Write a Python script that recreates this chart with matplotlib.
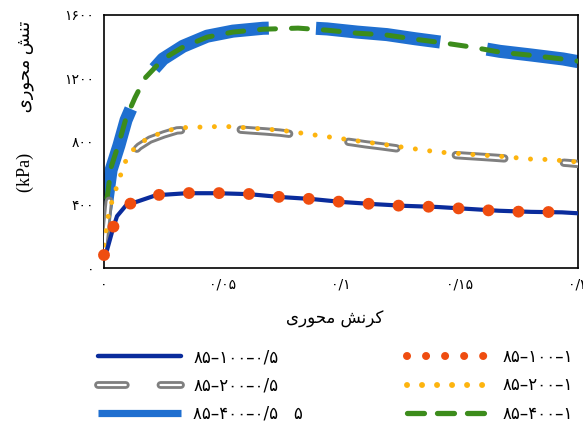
import matplotlib
matplotlib.use('Agg')
import matplotlib.pyplot as plt
import matplotlib.patheffects as pe
from matplotlib.lines import Line2D

plt.rcParams['lines.scale_dashes'] = False

FA_DIGITS = str.maketrans('0123456789', '۰۱۲۳۴۵۶۷۸۹')


def fa(text):
    return text.translate(FA_DIGITS)


# axial strain / axial stress (kPa)
strain_100 = [0, 0.0013, 0.0038, 0.0055, 0.0093, 0.0219, 0.035, 0.0477, 0.0612, 0.0743, 0.0878,
              0.1008, 0.1139, 0.127, 0.1405, 0.1536, 0.1667, 0.1802, 0.1932, 0.2]
stress_100_1 = [82, 120, 253, 330, 398, 461, 474, 474, 468, 449, 436,
                417, 404, 392, 386, 373, 360, 354, 354, 348]
stress_100_05 = [70, 115, 250, 328, 396, 460, 473, 473, 467, 449, 436,
                 417, 404, 393, 386, 374, 362, 355, 352, 346]

strain_200 = [0, 0.002, 0.0042, 0.0063, 0.0084, 0.0105, 0.0148, 0.0194, 0.0253, 0.0308, 0.0376,
              0.0435, 0.0498, 0.0557, 0.062, 0.0679, 0.0743, 0.0802, 0.0861, 0.0924, 0.0983,
              0.1046, 0.1105, 0.1169, 0.1228, 0.1287, 0.135, 0.1409, 0.1473, 0.1532, 0.1595,
              0.1654, 0.1717, 0.1776, 0.1835, 0.1899, 0.1958, 0.2]
stress_200_1 = [145, 354, 461, 556, 651, 720, 784, 828, 860, 885, 891,
                891, 897, 891, 885, 878, 872, 860, 847, 834, 822,
                809, 796, 784, 771, 758, 746, 733, 727, 720, 714,
                708, 702, 689, 689, 683, 676, 670]
stress_200_05 = [120, 420, 500, 585, 650, 705, 768, 812, 845, 870, 876,
                 878, 882, 877, 870, 864, 856, 845, 833, 820, 808,
                 795, 782, 770, 758, 745, 733, 722, 715, 709, 703,
                 697, 690, 680, 676, 670, 664, 658]

strain_400 = [0, 0.0012, 0.003, 0.0063, 0.0093, 0.0131, 0.0173, 0.0249, 0.0333, 0.0435, 0.0544,
              0.0671, 0.0819, 0.0941, 0.1068, 0.1194, 0.1312, 0.1439, 0.1553, 0.1671, 0.1797,
              0.1937, 0.2]
stress_400_1 = [240, 430, 638, 790, 948, 1078, 1201, 1321, 1397, 1460, 1492,
                1510, 1517, 1504, 1485, 1473, 1447, 1422, 1397, 1365, 1346,
                1321, 1308]
stress_400_05 = [300, 420, 620, 775, 935, 1068, 1195, 1322, 1402, 1466, 1498,
                 1516, 1522, 1512, 1492, 1476, 1450, 1425, 1400, 1370, 1348,
                 1322, 1305]

x_ticks = [0, 0.05, 0.1, 0.15, 0.2]
x_tick_labels = ['0', '0/05', '0/1', '0/15', '0/2']
y_ticks = [0, 400, 800, 1200, 1600]

labels_05 = ['85–100–0/5', '85–200–0/5', '85–400–0/5   5']
labels_1 = ['85–100–1', '85–200–1', '85–400–1']

# visual-order Persian text (presentation forms, right-to-left reversed)
x_title = '\uFBFC\uFEAD\uFEEE\uFEA4\uFEE3 \uFEB6\uFEE7\uFEAE\uFB90'
y_title = '(kPa)' + ' ' * 9 + '\uFBFC\uFEAD\uFEEE\uFEA4\uFEE3 \uFEB6\uFEE8\uFE97'

DARK_BLUE = '#0a2c9c'
ORANGE = '#ef4d10'
GRAY = '#7f7f7f'
YELLOW = '#fdb40f'
BAND_BLUE = '#1f6fd0'
GREEN = '#3c8c1b'

fig = plt.figure(figsize=(5.83, 4.24), dpi=100)
W, H = 583, 424
ax = fig.add_axes([104 / W, 1 - 268 / H, (578 - 104) / W, (268 - 15) / H])

# 400 series
ax.plot(strain_400, stress_400_05, color=BAND_BLUE, lw=9.4, linestyle=(7, (90, 34)),
        dash_capstyle='butt', zorder=2)
ax.plot(strain_400, stress_400_1, color=GREEN, lw=3.6, linestyle=(0, (11.5, 11.5)),
        dash_capstyle='round', zorder=3)

# 200 series
ax.plot(strain_200, stress_200_05, color='white', lw=1.8, linestyle=(0, (35, 43)),
        dash_capstyle='round', zorder=4,
        path_effects=[pe.Stroke(linewidth=6, foreground=GRAY), pe.Normal()])
ax.plot(strain_200, stress_200_1, color=YELLOW, lw=3.6, linestyle=(0, (0.01, 10.4)),
        dash_capstyle='round', zorder=5)

# 100 series
ax.plot(strain_100, stress_100_05, color=DARK_BLUE, lw=3.0, zorder=6)
ax.plot(strain_100, stress_100_1, color=ORANGE, lw=8.6, linestyle=(0, (0.01, 21.6)),
        dash_capstyle='round', zorder=7, clip_on=False)

ax.set_xlim(0, 0.2)
ax.set_ylim(0, 1600)
ax.set_xticks(x_ticks)
ax.set_xticklabels([fa(t) for t in x_tick_labels], fontsize=10)
ax.set_yticks(y_ticks)
ax.set_yticklabels([fa(str(t)) for t in y_ticks], fontsize=10)
ax.tick_params(length=0, pad=7)
for spine in ax.spines.values():
    spine.set_linewidth(1.2)
    spine.set_color('black')

ax.set_xlabel(x_title, fontsize=12)
ax.xaxis.set_label_coords((335 - 104) / 474, -0.165)
fig.text(25 / W, 1 - 106 / H, y_title, rotation=90, ha='center', va='center',
         fontsize=13, family=['Liberation Serif', 'DejaVu Sans'])

# legend proxies (legend marks are drawn smaller than the curves)
handles_05 = [
    Line2D([], [], color=DARK_BLUE, lw=3.2, solid_capstyle='round'),
    Line2D([], [], color='white', lw=1.6, linestyle=(0, (20, 25)), dash_capstyle='round',
           path_effects=[pe.Stroke(linewidth=5.6, foreground=GRAY), pe.Normal()]),
    Line2D([], [], color=BAND_BLUE, lw=5.2, solid_capstyle='butt'),
]
handles_1 = [
    Line2D([], [], color=ORANGE, lw=5.8, linestyle=(0, (0.01, 13.7)), dash_capstyle='round'),
    Line2D([], [], color=YELLOW, lw=4.3, linestyle=(0, (0.01, 10.8)), dash_capstyle='round'),
    Line2D([], [], color=GREEN, lw=3.8, linestyle=(0, (12.2, 9.4)), dash_capstyle='round'),
]
legend_opts = dict(loc='upper left', frameon=False, borderpad=0, borderaxespad=0,
                   handlelength=5.0, handletextpad=0.72, labelspacing=0.62, fontsize=12)
fig.legend(handles_05, [fa(t) for t in labels_05],
           bbox_to_anchor=(98 / W, 1 - 348 / H), **legend_opts)
fig.legend(handles_1, [fa(t) for t in labels_1],
           bbox_to_anchor=(407 / W, 1 - 348 / H), **legend_opts)

fig.savefig('out.png', dpi=100)
